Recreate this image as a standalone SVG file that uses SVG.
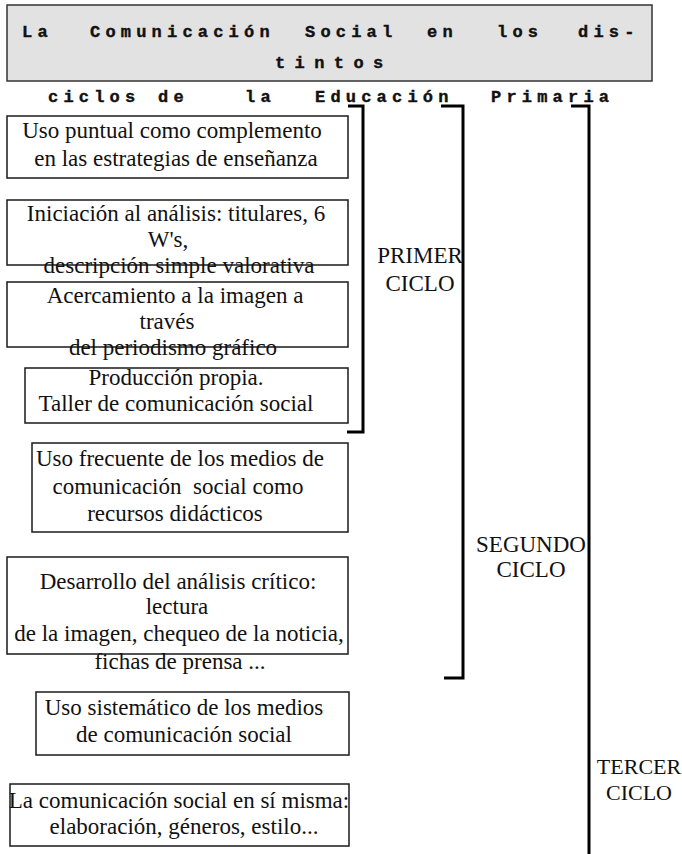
<svg xmlns="http://www.w3.org/2000/svg" width="682" height="854" viewBox="0 0 682 854">
<style>
.bx{fill:#fff;stroke:#1a1a1a;stroke-width:1.5}
.tb{fill:#e2e2e2;stroke:#333;stroke-width:1.5}
.t{font-family:"Liberation Serif","Times New Roman",serif;font-size:23px;fill:#111;text-anchor:middle}
.m{font-family:"Liberation Mono","Courier New",monospace;font-size:17px;font-weight:700;fill:#111;stroke:#111;stroke-width:0.4;letter-spacing:5.2px}
.br{fill:none;stroke:#000;stroke-width:3}
</style>
<rect width="682" height="854" fill="#fff"/>
<g id="title">
<rect class="tb" x="7" y="5" width="645" height="76"/>
<text class="m" y="37"><tspan x="22">La</tspan><tspan x="90">Comunicación</tspan><tspan x="305">Social</tspan><tspan x="427">en</tspan><tspan x="497">los</tspan><tspan x="578">dis-</tspan></text>
<text class="m" y="68" style="letter-spacing:9.4px"><tspan x="275">tintos</tspan></text>
<text class="m" y="102"><tspan x="48">ciclos</tspan><tspan x="158">de</tspan><tspan x="245">la</tspan><tspan x="315">Educación</tspan><tspan x="491">Primaria</tspan></text>
</g>
<g id="connectors">
<path class="br" d="M348,106 H363 V432 H347"/>
<path class="br" d="M441,106 H463 V678 H444"/>
<path class="br" d="M571,106 H589 V856"/>
</g>
<g id="box1">
<rect class="bx" x="7" y="116" width="341" height="62"/>
<text class="t" x="172" y="138">Uso puntual como complemento</text>
<text class="t" x="176" y="166">en las estrategias de enseñanza</text>
</g>
<g id="box2">
<rect class="bx" x="7" y="200" width="341" height="65"/>
<text class="t" x="176" y="221">Iniciación al análisis: titulares, 6</text>
<text class="t" x="168" y="247">W's,</text>
<text class="t" x="179" y="273">descripción simple valorativa</text>
</g>
<g id="box3">
<rect class="bx" x="7" y="282" width="341" height="65"/>
<text class="t" x="175" y="303">Acercamiento a la imagen a</text>
<text class="t" x="167" y="329">través</text>
<text class="t" x="173" y="355">del periodismo gráfico</text>
</g>
<g id="box4">
<rect class="bx" x="25" y="368" width="323" height="55"/>
<text class="t" x="176" y="385">Producción propia.</text>
<text class="t" x="176" y="411">Taller de comunicación social</text>
</g>
<g id="box5">
<rect class="bx" x="32" y="443" width="316" height="89"/>
<text class="t" x="180" y="466">Uso frecuente de los medios de</text>
<text class="t" x="178" y="494" style="white-space:pre">comunicación  social como</text>
<text class="t" x="175" y="521">recursos didácticos</text>
</g>
<g id="box6">
<rect class="bx" x="7" y="557" width="341" height="97"/>
<text class="t" x="178" y="589">Desarrollo del análisis crítico:</text>
<text class="t" x="177" y="614">lectura</text>
<text class="t" x="179" y="641">de la imagen, chequeo de la noticia,</text>
<text class="t" x="180" y="669">fichas de prensa ...</text>
</g>
<g id="box7">
<rect class="bx" x="36" y="692" width="313" height="63"/>
<text class="t" x="184" y="715">Uso sistemático de los medios</text>
<text class="t" x="184" y="742">de comunicación social</text>
</g>
<g id="box8">
<rect class="bx" x="10" y="784" width="339" height="62"/>
<text class="t" x="179" y="808">La comunicación social en sí misma:</text>
<text class="t" x="184" y="834">elaboración, géneros, estilo...</text>
</g>
<g id="primer">
<text class="t" x="420" y="263">PRIMER</text>
<text class="t" x="420" y="291">CICLO</text>
</g>
<g id="segundo">
<text class="t" x="531" y="552">SEGUNDO</text>
<text class="t" x="531" y="577">CICLO</text>
</g>
<g id="tercer">
<text class="t" x="639" y="774" style="font-size:22px">TERCER</text>
<text class="t" x="639" y="800" style="font-size:22px">CICLO</text>
</g>
</svg>
